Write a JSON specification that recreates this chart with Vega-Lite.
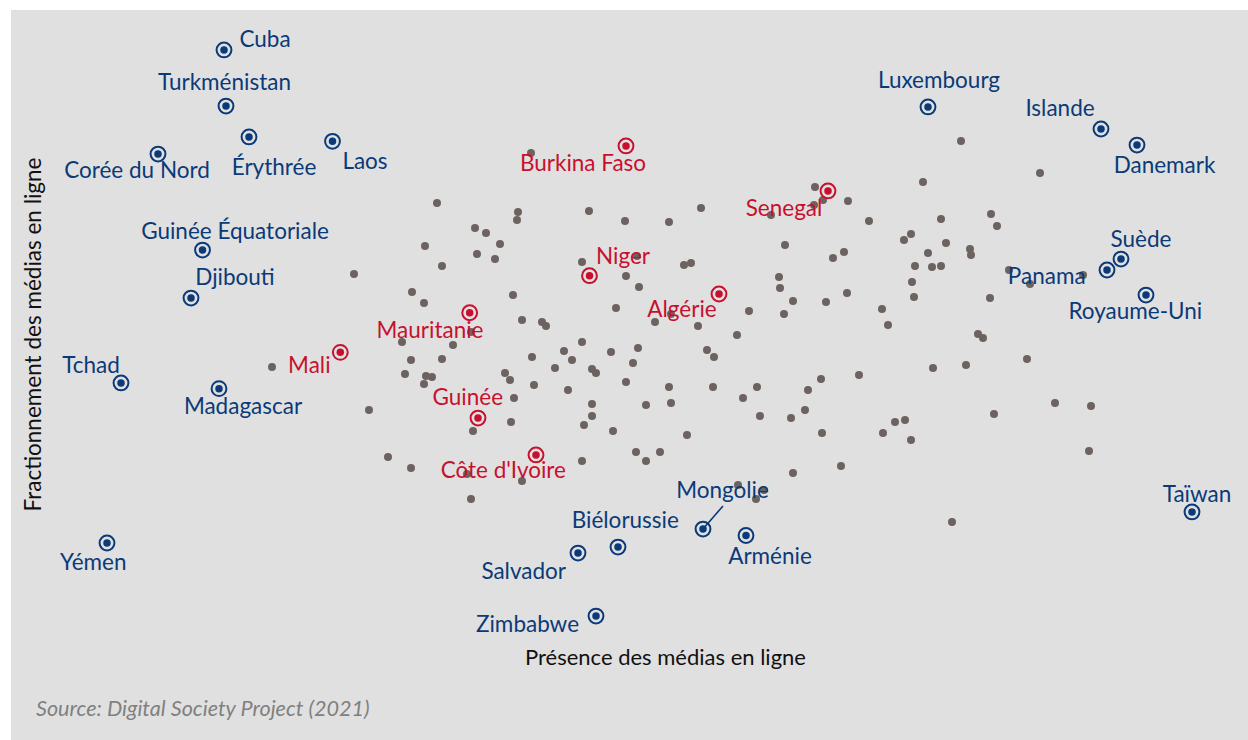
{
  "$schema": "https://vega.github.io/schema/vega-lite/v6.json",
  "width": 1237,
  "height": 730,
  "autosize": {"type": "none"},
  "padding": {"left": 11, "top": 10, "right": 0, "bottom": 0},
  "background": "#ffffff",
  "view": {"fill": "#e0e0e0", "stroke": null},
  "title": {
    "text": "Source: Digital Society Project (2021)",
    "orient": "bottom",
    "anchor": "start",
    "frame": "group",
    "offset": -30,
    "dx": 25,
    "baseline": "middle",
    "font": "Lato",
    "fontStyle": "italic",
    "fontWeight": "normal",
    "fontSize": 21.6,
    "color": "#808080"
  },
  "datasets": {
    "fond": [
      {"x": -0.495, "y": 1.48}, {"x": -0.965, "y": 1.147}, {"x": -0.56, "y": 1.087}, {"x": -0.565, "y": 1.033},
      {"x": -0.205, "y": 1.093}, {"x": -0.025, "y": 1.027}, {"x": 0.195, "y": 1.02}, {"x": 0.355, "y": 1.113},
      {"x": 0.925, "y": 1.253}, {"x": 0.965, "y": 1.167}, {"x": 0.92, "y": 1.133}, {"x": 0.705, "y": 1.067},
      {"x": 1.09, "y": 1.16}, {"x": -0.775, "y": 0.98}, {"x": -0.72, "y": 0.947}, {"x": -0.65, "y": 0.873},
      {"x": -1.025, "y": 0.86}, {"x": -0.765, "y": 0.807}, {"x": -0.675, "y": 0.773}, {"x": -0.94, "y": 0.727},
      {"x": -1.38, "y": 0.673}, {"x": -0.24, "y": 0.753}, {"x": 0.035, "y": 0.793}, {"x": -0.02, "y": 0.66},
      {"x": 0.045, "y": 0.587}, {"x": -1.09, "y": 0.553}, {"x": -1.03, "y": 0.48}, {"x": -0.585, "y": 0.533},
      {"x": -0.07, "y": 0.447}, {"x": -0.54, "y": 0.367}, {"x": -0.44, "y": 0.353}, {"x": -0.42, "y": 0.327},
      {"x": 0.125, "y": 0.353}, {"x": 0.205, "y": 0.407}, {"x": -0.795, "y": 0.287}, {"x": 0.27, "y": 0.733},
      {"x": 0.305, "y": 0.747}, {"x": 0.34, "y": 0.327}, {"x": 0.595, "y": 0.427}, {"x": 0.535, "y": 0.267},
      {"x": 0.385, "y": 0.167}, {"x": 0.42, "y": 0.12}, {"x": 0.775, "y": 0.867}, {"x": 0.745, "y": 0.653},
      {"x": 0.75, "y": 0.58}, {"x": 0.815, "y": 0.493}, {"x": 0.77, "y": 0.407}, {"x": 0.98, "y": 0.487},
      {"x": 1.015, "y": 0.78}, {"x": 1.07, "y": 0.82}, {"x": 1.085, "y": 0.547}, {"x": 1.655, "y": 1.56},
      {"x": 2.05, "y": 1.347}, {"x": 1.465, "y": 1.287}, {"x": 1.195, "y": 1.027}, {"x": 1.555, "y": 1.04},
      {"x": 1.805, "y": 1.073}, {"x": 1.835, "y": 0.993}, {"x": 1.405, "y": 0.94}, {"x": 1.37, "y": 0.9},
      {"x": 1.58, "y": 0.88}, {"x": 1.49, "y": 0.813}, {"x": 1.7, "y": 0.84}, {"x": 1.705, "y": 0.8},
      {"x": 1.425, "y": 0.727}, {"x": 1.51, "y": 0.72}, {"x": 1.555, "y": 0.727}, {"x": 1.895, "y": 0.7},
      {"x": 2.0, "y": 0.607}, {"x": 2.265, "y": 0.667}, {"x": 1.41, "y": 0.62}, {"x": 1.42, "y": 0.52},
      {"x": 1.8, "y": 0.513}, {"x": 1.26, "y": 0.44}, {"x": 1.29, "y": 0.333}, {"x": 1.74, "y": 0.273},
      {"x": 1.765, "y": 0.247}, {"x": 1.985, "y": 0.107}, {"x": 1.145, "y": 0.0}, {"x": 1.515, "y": 0.047},
      {"x": 1.68, "y": 0.067}, {"x": 2.125, "y": -0.187}, {"x": 2.305, "y": -0.207}, {"x": 1.82, "y": -0.26},
      {"x": 1.325, "y": -0.313}, {"x": 1.375, "y": -0.3}, {"x": 1.265, "y": -0.387}, {"x": 1.405, "y": -0.433},
      {"x": 2.295, "y": -0.507}, {"x": 1.055, "y": -0.607}, {"x": 1.61, "y": -0.98}, {"x": 0.955, "y": -0.027},
      {"x": 0.89, "y": -0.1}, {"x": 0.195, "y": -0.08}, {"x": 0.205, "y": -0.187}, {"x": 0.415, "y": -0.08},
      {"x": 0.635, "y": -0.08}, {"x": 0.565, "y": -0.153}, {"x": 0.875, "y": -0.233}, {"x": 0.65, "y": -0.273},
      {"x": 0.805, "y": -0.287}, {"x": 0.96, "y": -0.387}, {"x": 0.285, "y": -0.4}, {"x": 0.15, "y": -0.513},
      {"x": 0.815, "y": -0.653}, {"x": 0.54, "y": -0.733}, {"x": 0.67, "y": -0.767}, {"x": 0.63, "y": -0.827},
      {"x": -1.14, "y": 0.22}, {"x": -0.885, "y": 0.2}, {"x": -1.79, "y": 0.053}, {"x": -1.095, "y": 0.1},
      {"x": -0.94, "y": 0.107}, {"x": -1.125, "y": 0.007}, {"x": -1.02, "y": -0.007}, {"x": -0.99, "y": -0.013},
      {"x": -1.03, "y": -0.06}, {"x": -1.305, "y": -0.233}, {"x": -0.49, "y": 0.12}, {"x": -0.33, "y": 0.16},
      {"x": -0.24, "y": 0.22}, {"x": -0.29, "y": 0.1}, {"x": -0.095, "y": 0.153}, {"x": 0.04, "y": 0.18},
      {"x": 0.015, "y": 0.08}, {"x": -0.375, "y": 0.047}, {"x": -0.19, "y": 0.04}, {"x": -0.17, "y": 0.013},
      {"x": -0.625, "y": 0.013}, {"x": -0.6, "y": -0.033}, {"x": -0.48, "y": -0.067}, {"x": -0.31, "y": -0.1},
      {"x": -0.02, "y": -0.047}, {"x": 0.08, "y": -0.2}, {"x": -0.19, "y": -0.193}, {"x": -0.19, "y": -0.273},
      {"x": -0.23, "y": -0.333}, {"x": -0.58, "y": -0.153}, {"x": -0.595, "y": -0.313}, {"x": -0.785, "y": -0.373},
      {"x": -0.085, "y": -0.373}, {"x": -1.21, "y": -0.547}, {"x": -1.095, "y": -0.62}, {"x": -0.24, "y": -0.573},
      {"x": 0.03, "y": -0.513}, {"x": 0.08, "y": -0.573}, {"x": -0.815, "y": -0.66}, {"x": -0.54, "y": -0.707},
      {"x": -0.795, "y": -0.827}
    ],
    "pays": [
      {"pays": "Cuba", "groupe": "Autres", "x": -2.03, "y": 2.167, "lx": -1.825, "ly": 2.233},
      {"pays": "Turkménistan", "groupe": "Autres", "x": -2.02, "y": 1.793, "lx": -2.0275, "ly": 1.947},
      {"pays": "Érythrée", "groupe": "Autres", "x": -1.905, "y": 1.587, "lx": -1.78, "ly": 1.38},
      {"pays": "Laos", "groupe": "Autres", "x": -1.4875, "y": 1.558, "lx": -1.325, "ly": 1.42},
      {"pays": "Corée du Nord", "groupe": "Autres", "x": -2.36, "y": 1.473, "lx": -2.465, "ly": 1.36},
      {"pays": "Guinée Équatoriale", "groupe": "Autres", "x": -2.1375, "y": 0.833, "lx": -1.975, "ly": 0.95},
      {"pays": "Djibouti", "groupe": "Autres", "x": -2.195, "y": 0.513, "lx": -1.975, "ly": 0.647},
      {"pays": "Tchad", "groupe": "Autres", "x": -2.545, "y": -0.053, "lx": -2.695, "ly": 0.062},
      {"pays": "Madagascar", "groupe": "Autres", "x": -2.055, "y": -0.091, "lx": -1.935, "ly": -0.213},
      {"pays": "Yémen", "groupe": "Autres", "x": -2.615, "y": -1.12, "lx": -2.6835, "ly": -1.251},
      {"pays": "Luxembourg", "groupe": "Autres", "x": 1.49, "y": 1.787, "lx": 1.545, "ly": 1.96},
      {"pays": "Islande", "groupe": "Autres", "x": 2.355, "y": 1.64, "lx": 2.15, "ly": 1.77},
      {"pays": "Danemark", "groupe": "Autres", "x": 2.535, "y": 1.533, "lx": 2.6725, "ly": 1.393},
      {"pays": "Suède", "groupe": "Autres", "x": 2.455, "y": 0.773, "lx": 2.555, "ly": 0.9},
      {"pays": "Panama", "groupe": "Autres", "x": 2.385, "y": 0.7, "lx": 2.0835, "ly": 0.65},
      {"pays": "Royaume-Uni", "groupe": "Autres", "x": 2.58, "y": 0.533, "lx": 2.5265, "ly": 0.42},
      {"pays": "Taïwan", "groupe": "Autres", "x": 2.81, "y": -0.913, "lx": 2.835, "ly": -0.803},
      {"pays": "Mongolie", "groupe": "Autres", "x": 0.365, "y": -1.027, "lx": 0.4625, "ly": -0.77, "sx": 0.465, "sy": -0.873},
      {"pays": "Biélorussie", "groupe": "Autres", "x": -0.06, "y": -1.147, "lx": -0.0235, "ly": -0.975},
      {"pays": "Arménie", "groupe": "Autres", "x": 0.58, "y": -1.07, "lx": 0.7, "ly": -1.213},
      {"pays": "Salvador", "groupe": "Autres", "x": -0.26, "y": -1.187, "lx": -0.5315, "ly": -1.313},
      {"pays": "Zimbabwe", "groupe": "Autres", "x": -0.17, "y": -1.607, "lx": -0.5125, "ly": -1.669},
      {"pays": "Burkina Faso", "groupe": "Afrique francophone", "x": -0.02, "y": 1.527, "lx": -0.235, "ly": 1.407},
      {"pays": "Senegal", "groupe": "Afrique francophone", "x": 0.99, "y": 1.227, "lx": 0.77, "ly": 1.105},
      {"pays": "Niger", "groupe": "Afrique francophone", "x": -0.2025, "y": 0.662, "lx": -0.035, "ly": 0.789},
      {"pays": "Algérie", "groupe": "Afrique francophone", "x": 0.445, "y": 0.54, "lx": 0.26, "ly": 0.433},
      {"pays": "Mauritanie", "groupe": "Afrique francophone", "x": -0.8015, "y": 0.415, "lx": -1.0, "ly": 0.295},
      {"pays": "Mali", "groupe": "Afrique francophone", "x": -1.4485, "y": 0.151, "lx": -1.6035, "ly": 0.061},
      {"pays": "Guinée", "groupe": "Afrique francophone", "x": -0.76, "y": -0.287, "lx": -0.811, "ly": -0.155},
      {"pays": "Côte d'Ivoire", "groupe": "Afrique francophone", "x": -0.47, "y": -0.533, "lx": -0.6335, "ly": -0.642}
    ]
  },
  "encoding": {
    "x": {
      "field": "x", "type": "quantitative",
      "scale": {"domain": [-3.095, 3.09], "nice": false, "zero": false},
      "axis": {
        "title": "Présence des médias en ligne",
        "domain": false, "ticks": false, "labels": false, "grid": false,
        "titleX": 654, "titleY": -82.5, "titleAlign": "center", "titleBaseline": "middle",
        "titleFont": "Lato", "titleFontSize": 22, "titleFontWeight": "normal", "titleColor": "#111111"
      }
    },
    "y": {
      "field": "y", "type": "quantitative",
      "scale": {"domain": [-2.4333, 2.4333], "nice": false, "zero": false},
      "axis": {
        "title": "Fractionnement des médias en ligne",
        "domain": false, "ticks": false, "labels": false, "grid": false,
        "titleX": 22, "titleY": 324, "titleAngle": -90, "titleAlign": "center", "titleBaseline": "middle",
        "titleFont": "Lato", "titleFontSize": 22.5, "titleFontWeight": "normal", "titleColor": "#111111"
      }
    }
  },
  "layer": [
    {
      "data": {"name": "fond"},
      "mark": {"type": "circle", "size": 64, "color": "#6c6360", "opacity": 1}
    },
    {
      "data": {"name": "pays"},
      "mark": {"type": "point", "shape": "circle", "filled": false, "size": 220, "strokeWidth": 2, "opacity": 1},
      "encoding": {
        "color": {"field": "groupe", "type": "nominal", "scale": {"domain": ["Autres", "Afrique francophone"], "range": ["#0b3a78", "#c8102e"]}, "legend": null}
      }
    },
    {
      "data": {"name": "pays"},
      "mark": {"type": "circle", "size": 56, "opacity": 1},
      "encoding": {
        "color": {"field": "groupe", "type": "nominal", "scale": {"domain": ["Autres", "Afrique francophone"], "range": ["#0b3a78", "#c8102e"]}, "legend": null}
      }
    },
    {
      "data": {"name": "pays"},
      "transform": [{"filter": "isValid(datum.sx)"}],
      "mark": {"type": "rule", "strokeWidth": 1.6, "color": "#0b3a78"},
      "encoding": {
        "x2": {"field": "sx"},
        "y2": {"field": "sy"}
      }
    },
    {
      "data": {"name": "pays"},
      "mark": {"type": "text", "font": "Lato", "fontSize": 22.5, "align": "center", "baseline": "middle"},
      "encoding": {
        "x": {"field": "lx", "type": "quantitative"},
        "y": {"field": "ly", "type": "quantitative"},
        "text": {"field": "pays"},
        "color": {"field": "groupe", "type": "nominal", "scale": {"domain": ["Autres", "Afrique francophone"], "range": ["#0b3a78", "#c8102e"]}, "legend": null}
      }
    }
  ]
}
